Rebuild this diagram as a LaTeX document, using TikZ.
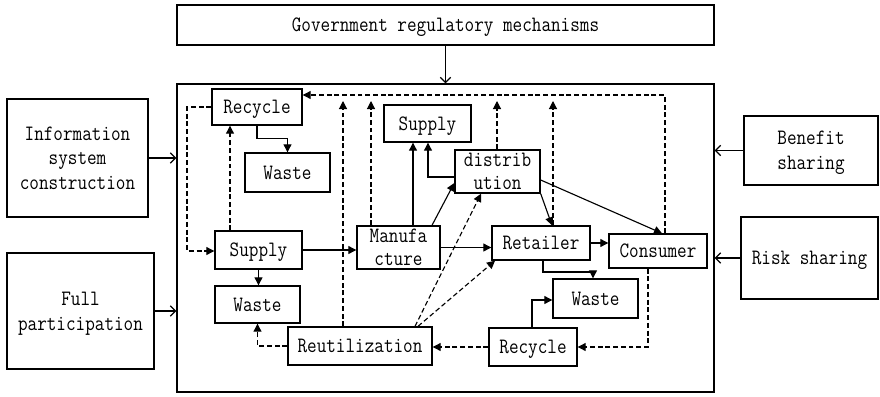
\documentclass[tikz,border=0pt]{standalone}
\usepackage{fontspec}
\setmainfont[FakeStretch=0.85]{Latin Modern Mono}
\usetikzlibrary{arrows.meta}
\tikzset{
>={Triangle[length=2mm,width=2mm]},
my box/.style={draw,line width=1pt,inner sep=0pt,align=center,text depth=0pt,
  font=\fontsize{15.6}{16.5}\selectfont},
my side/.style={my box,font=\fontsize{15.6}{17.5}\selectfont},
sz/.style 2 args={minimum width=#1*0.025cm,minimum height=#2*0.025cm},
my line/.style={line width=0.8pt,->},
my dash/.style={line width=0.8pt,dash pattern=on 3.5pt off 2pt,->},
my open/.style={line width=0.8pt,-{Straight Barb[length=1.3mm,width=2.6mm]}},
}
\begin{document}
\begin{tikzpicture}[x=0.025cm,y=-0.025cm]
\useasboundingbox (0,0) rectangle (880,396);
% outer boxes
\node[my box,sz={537}{40}] (gov) at (445.5,25) {Government regulatory mechanisms};
\node[my box,sz={537}{308}] (sys) at (445.5,238) {};
\node[my side,sz={141}{118}] (info) at (77.5,158) {Information\\system\\construction};
\node[my side,sz={147}{116}] (full) at (80.5,311) {Full\\participation};
\node[my side,sz={134}{69}] (benefit) at (811,150.5) {Benefit\\sharing};
\node[my side,sz={137}{82}] (risk) at (809.5,258) {Risk sharing};
% inner boxes
\node[my box,sz={90}{36}] (rec1) at (257,107) {Recycle};
\node[my box,sz={85}{39}] (waste1) at (287.5,172.5) {Waste};
\node[my box,sz={87}{38}] (sup1) at (258.5,250) {Supply};
\node[my box,sz={85}{37}] (waste2) at (257.5,304.5) {Waste};
\node[my box,sz={144}{38}] (reuse) at (360,346) {Reutilization};
\node[my box,sz={83}{43}] (manu) at (398.5,247.5) {Manufa\\cture};
\node[my box,sz={87}{37}] (sup2) at (427.5,123.5) {Supply};
\node[my box,sz={85}{43}] (dist) at (497.5,171.5) {distrib\\ution};
\node[my box,sz={98}{34}] (ret) at (541,243) {Retailer};
\node[my box,sz={98}{34}] (cons) at (658,251) {Consumer};
\node[my box,sz={85}{39}] (waste3) at (595.5,298.5) {Waste};
\node[my box,sz={88}{38}] (rec2) at (533,347) {Recycle};
% outer arrows
\draw[my open] (gov) -- (sys);
\draw[my open] (info) -- (info -| sys.west);
\draw[my open] (full) -- (full -| sys.west);
\draw[my open] (benefit) -- (benefit -| sys.east);
\draw[my open] (risk) -- (risk -| sys.east);
% solid flows
\draw[my line] (rec1.south) -- ++(0,13) -| (waste1.north);
\draw[my line] (sup1.south) -- (sup1.south |- waste2.north);
\draw[my line] (sup1.east) -- (sup1.east -| manu.west);
\draw[my line] (manu.east) -- (manu.east -| ret.west);
\draw[my line] (413,0 |- manu.north) -- (413,0 |- sup2.south);
\draw[my line] (dist.west |- 0,177) -| (428,0 |- sup2.south);
\draw[my line] (432,0 |- manu.north) -- (dist.west |- 0,183);
\draw[my line] (dist.south east) -- (552,0 |- ret.north);
\draw[my line] (dist.east |- 0,180) -- (662,0 |- cons.north);
\draw[my line] (ret.east) -- (ret.east -| cons.west);
\draw[my line] (543,0 |- ret.south) -- (543,272) -| (593,0 |- waste3.north);
\draw[my line] (532,0 |- rec2.north) |- (waste3.west |- 0,300);
% dashed flows
\draw[my dash] (665,0 |- cons.north) |- (rec1.east |- 0,95);
\draw[my dash] (343,0 |- reuse.north) -- (343,101);
\draw[my dash] (371,0 |- manu.north) -- (371,101);
\draw[my dash] (497,0 |- dist.north) -- (497,101);
\draw[my dash] (553,0 |- ret.north) -- (553,101);
\draw[my dash] (rec1.west) -| (187,251) -- (sup1.west |- 0,251);
\draw[my dash] (230,0 |- sup1.north) -- (230,0 |- rec1.south);
\draw[my dash] (reuse.west) -| (waste2.south);
\draw[my dash] (rec2.west) -- (rec2.west -| reuse.east);
\draw[my dash] (648,0 |- cons.south) |- (rec2.east);
\draw[my dash] (415,0 |- reuse.north) -- (481,0 |- dist.south);
\draw[my dash] (418,0 |- reuse.north) -- (495,0 |- ret.south);
\end{tikzpicture}
\end{document}
